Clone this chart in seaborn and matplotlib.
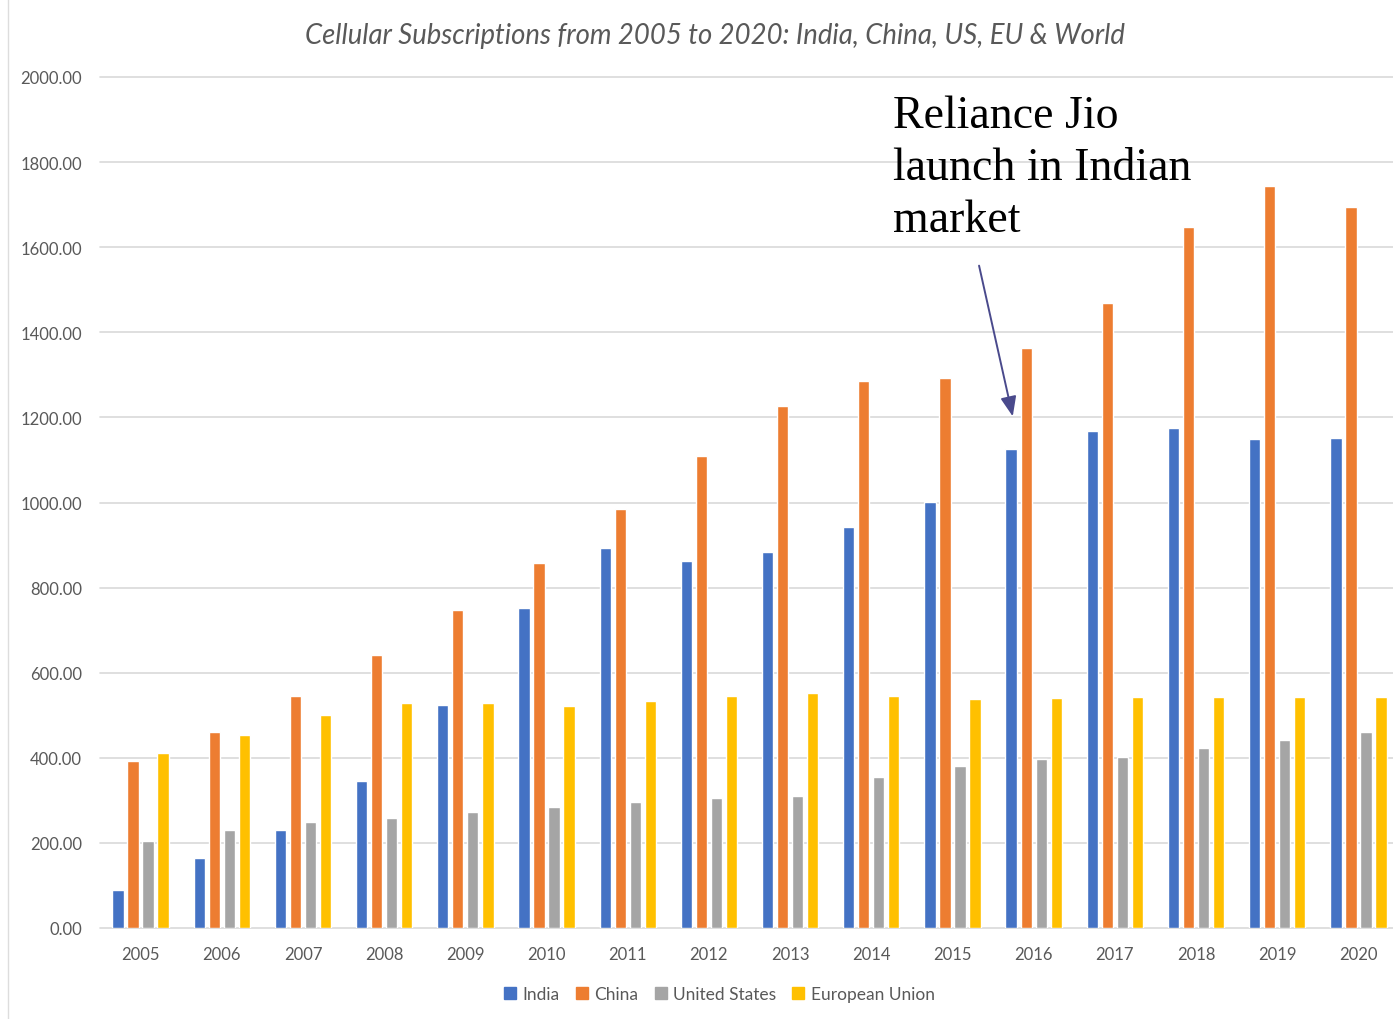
import matplotlib
matplotlib.use("Agg")
import matplotlib.pyplot as plt
from matplotlib.lines import Line2D
import seaborn as sns
import pandas as pd

# Cellular subscriptions (millions), 2005-2020
years = [str(y) for y in range(2005, 2021)]
india = [89, 164, 230, 345, 524, 752, 893, 862, 884, 942, 1001, 1126, 1168, 1175, 1149, 1152]
china = [392, 461, 545, 642, 747, 858, 985, 1109, 1227, 1286, 1293, 1363, 1469, 1647, 1744, 1694]
united_states = [204, 230, 249, 259, 273, 284, 296, 306, 310, 355, 381, 397, 402, 423, 442, 461]
european_union = [411, 454, 501, 529, 529, 522, 534, 545, 552, 545, 538, 541, 543, 543, 543, 543]

series_names = ["India", "China", "United States", "European Union"]
series_values = [india, china, united_states, european_union]
palette = ["#4472C4", "#ED7D31", "#A5A5A5", "#FFC000"]
y_ticks = [0, 200, 400, 600, 800, 1000, 1200, 1400, 1600, 1800, 2000]

rows = []
for name, vals in zip(series_names, series_values):
    for yr, v in zip(years, vals):
        rows.append({"Year": yr, "Series": name, "Value": v})
df = pd.DataFrame(rows)

sns.set_theme(style="white")
plt.rcParams["font.family"] = ["Lato", "DejaVu Sans"]

W, H = 1393, 1020
fig = plt.figure(figsize=(W / 100, H / 100), dpi=100)
fig.patch.set_facecolor("white")
ax = fig.add_axes([100 / W, (H - 929) / H, 1299 / W, 851 / H])

sns.barplot(data=df, x="Year", y="Value", hue="Series", hue_order=series_names,
            palette=palette, width=0.74, gap=0.25, saturation=1.0,
            order=years, ax=ax, legend=False)

ax.set_xlim(-0.5, len(years) - 0.5)
ax.set_ylim(0, 2000)
ax.set_yticks(y_ticks)
ax.set_yticklabels([f"{t:.2f}" for t in y_ticks])
ax.set_xlabel("")
ax.set_ylabel("")
for s in ax.spines.values():
    s.set_visible(False)
ax.yaxis.grid(True, color="#D9D9D9", linewidth=1.2)
ax.set_axisbelow(True)
for gl in ax.get_ygridlines():
    gl.set_clip_on(False)
ax.tick_params(axis="both", length=0, labelsize=12, labelcolor="#595959")
ax.tick_params(axis="x", pad=13)
ax.tick_params(axis="y", pad=13)

fig.text(0.513, 1 - 36 / H,
         "Cellular Subscriptions from 2005 to 2020: India, China, US, EU & World",
         ha="center", va="center", fontsize=19.8, style="italic", color="#595959")

# Annotation for the Jio launch
ax.text(9.27, 1958, "Reliance Jio\nlaunch in Indian\nmarket", ha="left", va="top",
        fontsize=33, family=["Liberation Serif"], color="black", linespacing=1.29)
ax.annotate("", xy=(10.75, 1196), xytext=(10.32, 1563),
            arrowprops=dict(arrowstyle="-|>,head_length=1.0,head_width=0.4",
                            color="#4A4A8C", lw=1.4))

handles = [Line2D([0], [0], marker="s", linestyle="none", markersize=8,
                  markerfacecolor=c, markeredgecolor=c) for c in palette]
fig.legend(handles, series_names, loc="center", bbox_to_anchor=(0.516, 1 - 995 / H),
           ncol=4, frameon=False, fontsize=12.5, labelcolor="#595959",
           handletextpad=0.3, columnspacing=0.9, handlelength=0.8)

# thin page border on the left
fig.add_artist(Line2D([8 / W, 8 / W], [0, 1], transform=fig.transFigure,
                      color="#DDDDDD", lw=1))

fig.savefig("out.png", dpi=100, facecolor="white")
